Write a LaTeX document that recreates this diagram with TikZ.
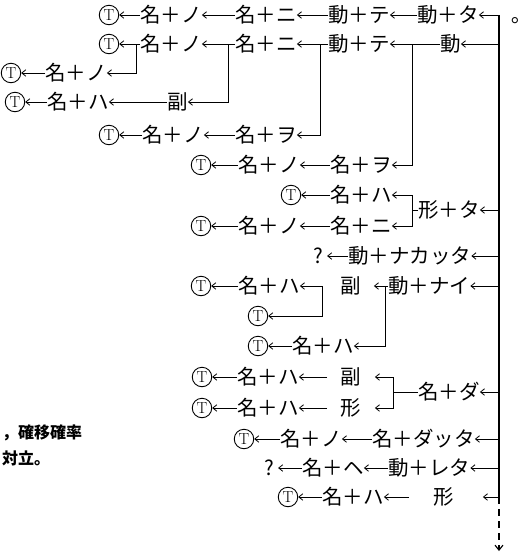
\documentclass[tikz,border=0pt]{standalone}
\usepackage{fontspec}
\newfontfamily\jp{Noto Sans CJK JP}
\usetikzlibrary{arrows.meta}
\begin{document}
\begin{tikzpicture}[x=1pt,y=-1pt,
  w/.style={anchor=west, inner sep=0pt, font=\jp\fontsize{20.5}{20.5}\selectfont, text height=18pt, text depth=2.5pt},
  tc/.style={circle, draw, line width=0.9pt, minimum size=19.5pt, inner sep=0pt, font=\fontsize{16}{16}\selectfont},
  side/.style={anchor=west, inner sep=0pt, font=\jp\bfseries\fontsize{16}{16}\selectfont},
  arr/.style={line width=0.8pt, -{Straight Barb[length=4pt,width=6.5pt]}},
  ln/.style={line width=0.8pt},
  mainln/.style={line width=1.1pt}]
\useasboundingbox (0,0) rectangle (524,555);
% main vertical
\coordinate (top) at (499,15);
\coordinate (bot) at (499,497);
\coordinate (fin) at (499,551);
\draw[mainln] (top) -- (bot);
\draw[mainln, dash pattern=on 7pt off 5pt, -{Straight Barb[length=5pt,width=8pt]}] (bot) -- (fin);
% row 1
\node[tc] (a1) at (109,15) {T};
\node[w] (a2) at (140,15) {名＋ノ};
\node[w] (a3) at (235,15) {名＋ニ};
\node[w] (a4) at (328,15) {動＋テ};
\node[w] (a5) at (417,15) {動＋タ};
\node[w] (a6) at (511,15) {｡};
\draw[arr] (a2.west) -- (a1.east);
\draw[arr] (a3.west) -- (a2.east);
\draw[arr] (a4.west) -- (a3.east);
\draw[arr] (a5.west) -- (a4.east);
\draw[arr] (top) -- (a5.east);
% row 2
\node[tc] (b1) at (109,44) {T};
\node[w] (b2) at (140,44) {名＋ノ};
\node[w] (b3) at (235,44) {名＋ニ};
\node[w] (b4) at (328,44) {動＋テ};
\node[w] (b5) at (440,44) {動};
\draw[arr] (b2.west) -- (b1.east);
\draw[arr] (b3.west) -- (b2.east);
\draw[arr] (b4.west) -- (b3.east);
\draw[arr] (b5.west) -- (b4.east);
\draw[arr] (top |- b5.east) -- (b5.east);
\coordinate (j1) at (136,44);
\coordinate (j2) at (228,44);
\coordinate (j3) at (320,44);
\coordinate (j4) at (412,44);
% row 3
\node[tc] (c1) at (11,73) {T};
\node[w] (c2) at (45,73) {名＋ノ};
\draw[arr] (c2.west) -- (c1.east);
\draw[arr] (j1) |- (c2.east);
% row 4
\node[tc] (d1) at (15,102) {T};
\node[w] (d2) at (47,102) {名＋ハ};
\node[w] (d3) at (167,102) {副};
\draw[arr] (d2.west) -- (d1.east);
\draw[arr] (d3.west) -- (d2.east);
\draw[arr] (j2) |- (d3.east);
% row 5
\node[tc] (e1) at (109,135) {T};
\node[w] (e2) at (142,135) {名＋ノ};
\node[w] (e3) at (235,135) {名＋ヲ};
\draw[arr] (e2.west) -- (e1.east);
\draw[arr] (e3.west) -- (e2.east);
\draw[arr] (j3) |- (e3.east);
% row 6
\node[tc] (f1) at (201,165) {T};
\node[w] (f2) at (238,165) {名＋ノ};
\node[w] (f3) at (330,165) {名＋ヲ};
\draw[arr] (f2.west) -- (f1.east);
\draw[arr] (f3.west) -- (f2.east);
\draw[arr] (j4) |- (f3.east);
% row 7 / 8
\node[tc] (g1) at (291,195) {T};
\node[w] (g2) at (330,195) {名＋ハ};
\draw[arr] (g2.west) -- (g1.east);
\node[w] (g3) at (418,210) {形＋タ};
\node[tc] (h1) at (201,226) {T};
\node[w] (h2) at (238,226) {名＋ノ};
\node[w] (h3) at (330,226) {名＋ニ};
\draw[arr] (h2.west) -- (h1.east);
\draw[arr] (h3.west) -- (h2.east);
\coordinate (k1) at (412,210);
\draw[ln] (g3.west) -- (k1);
\draw[arr] (k1) |- (g2.east);
\draw[arr] (k1) |- (h3.east);
\draw[arr] (top |- g3.east) -- (g3.east);
% row 9
\node[w] (i1) at (313,256) {?};
\node[w] (i2) at (348,256) {動＋ナカッタ};
\draw[arr, shorten >=4pt] (i2.west) -- (i1.east);
\draw[arr] (top |- i2.east) -- (i2.east);
% row 10
\node[tc] (l1) at (201,286) {T};
\node[w] (l2) at (238,286) {名＋ハ};
\node[w] (l3) at (340,286) {副};
\node[w] (l4) at (388,286) {動＋ナイ};
\draw[arr] (l2.west) -- (l1.east);
\coordinate (m1) at (322,286);
\coordinate (m2) at (385,286);
\draw[arr] (m1) -- (l2.east);
\draw[arr, shorten >=13pt] (m2) -- (l3.east);
\draw[ln] (l4.west) -- (m2);
\draw[arr] (top |- l4.east) -- (l4.east);
% row 11
\node[tc] (n1) at (258,316) {T};
\draw[arr] (m1) |- (n1.east);
% row 12
\node[tc] (o1) at (258,346) {T};
\node[w] (o2) at (292,346) {名＋ハ};
\draw[arr] (o2.west) -- (o1.east);
\draw[arr] (m2) |- (o2.east);
% row 13 / 14
\node[tc] (p1) at (202,377) {T};
\node[w] (p2) at (237,377) {名＋ハ};
\node[w] (p3) at (340,377) {副};
\draw[arr] (p2.west) -- (p1.east);
\draw[arr, shorten <=13pt] (p3.west) -- (p2.east);
\node[w] (p4) at (418,392) {名＋ダ};
\node[tc] (q1) at (202,408) {T};
\node[w] (q2) at (237,408) {名＋ハ};
\node[w] (q3) at (340,408) {形};
\draw[arr] (q2.west) -- (q1.east);
\draw[arr, shorten <=13pt] (q3.west) -- (q2.east);
\coordinate (k2) at (393,392);
\draw[ln] (p4.west) -- (k2);
\draw[arr, shorten >=14pt] (k2) |- (p3.east);
\draw[arr, shorten >=14pt] (k2) |- (q3.east);
\draw[arr] (top |- p4.east) -- (p4.east);
% row 15
\node[tc] (r1) at (244,439) {T};
\node[w] (r2) at (280,439) {名＋ノ};
\node[w] (r3) at (372,439) {名＋ダッタ};
\draw[arr] (r2.west) -- (r1.east);
\draw[arr] (r3.west) -- (r2.east);
\draw[arr] (top |- r3.east) -- (r3.east);
% row 16
\node[w] (s1) at (264,468) {?};
\node[w] (s2) at (302,468) {名＋ヘ};
\node[w] (s3) at (388,468) {動＋レタ};
\draw[arr, shorten >=4pt] (s2.west) -- (s1.east);
\draw[arr] (s3.west) -- (s2.east);
\draw[arr] (top |- s3.east) -- (s3.east);
% row 17
\node[tc] (t1) at (288,497) {T};
\node[w] (t2) at (322,497) {名＋ハ};
\node[w] (t3) at (433,497) {形};
\draw[arr] (t2.west) -- (t1.east);
\draw[arr, shorten <=24pt] (t3.west) -- (t2.east);
\draw[arr, shorten >=29pt] (bot) -- (t3.east);
% side text
\node[side] (x1) at (2,433) {，確移確率};
\node[side] (x2) at (2,458) {対立。};
\end{tikzpicture}
\end{document}
